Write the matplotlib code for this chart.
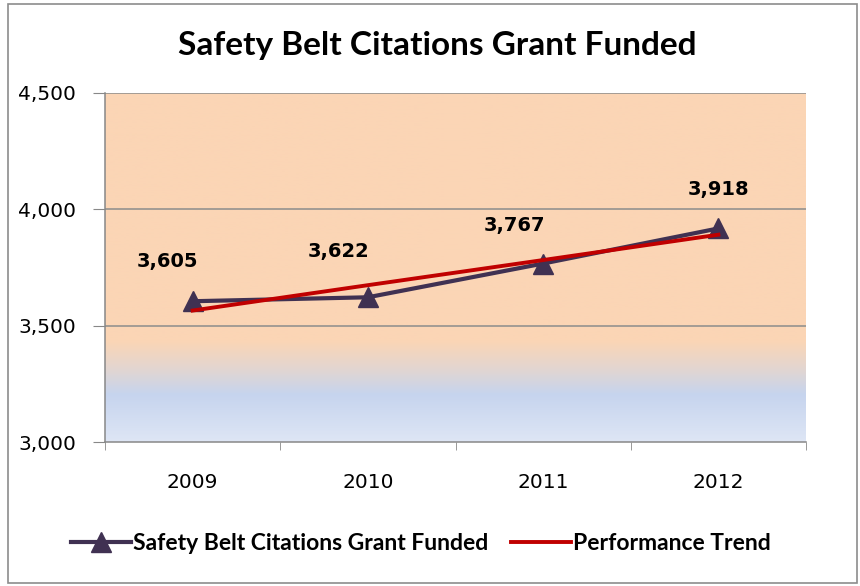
import numpy as np
import matplotlib
matplotlib.use("Agg")
import matplotlib.pyplot as plt
from matplotlib.colors import LinearSegmentedColormap
from matplotlib.patches import Rectangle

years = ["2009", "2010", "2011", "2012"]
citations = [3605, 3622, 3767, 3918]
trend = [3565, 3674, 3782, 3891]
y_ticks = [3000, 3500, 4000, 4500]
y_tick_labels = ["3,000", "3,500", "4,000", "4,500"]
title = "Safety Belt Citations Grant Funded"
series_name = "Safety Belt Citations Grant Funded"
trend_name = "Performance Trend"

label_offsets = [(-25, 30), (-29, 36), (-29, 29), (0, 29)]

fig = plt.figure(figsize=(8.6, 5.86), dpi=100)
ax = fig.add_axes([105/860, 1-442/586, 701/860, 349/586])

# gradient background
cmap = LinearSegmentedColormap.from_list("bg", [
    (0.0, "#DEE6F5"), (0.135, "#C6D4EE"), (0.21, "#E3D6D0"),
    (0.29, "#FBD5B5"), (1.0, "#FBD5B5")])
grad = np.linspace(0, 1, 256).reshape(-1, 1)
ax.imshow(grad, cmap=cmap, aspect="auto", origin="lower",
          extent=[-0.5, 3.5, 3000, 4500], zorder=0)

x = np.arange(len(years))
ax.plot(x, citations, color="#403152", lw=3, marker="^", markersize=14,
        zorder=3, label=series_name)
ax.plot(x, trend, color="#C00000", lw=2.8, zorder=4, label=trend_name)

for xi, v, (dx, dy) in zip(x, citations, label_offsets):
    ax.annotate(f"{v:,}", (xi, v), xytext=(dx, dy), textcoords="offset pixels",
                ha="center", va="bottom", fontsize=14, fontweight="bold",
                color="black")

ax.set_xlim(-0.5, 3.5)
ax.set_ylim(3000, 4500)
ax.set_yticks(y_ticks)
ax.set_yticklabels(y_tick_labels, fontsize=14.5)
ax.set_xticks(x)
ax.set_xticklabels(years, fontsize=14.5)
ax.set_xticks(np.arange(-0.5, 4.0, 1.0), minor=True)
ax.tick_params(axis="x", which="major", length=0, pad=22)
ax.tick_params(axis="x", which="minor", length=6, color="#888888", direction="out")
ax.tick_params(axis="y", length=9, color="#888888", direction="out", pad=12)
for yv in y_ticks[1:]:
    ax.axhline(yv, color="#8C8C8C", lw=1.1, zorder=1)
for s in ["top", "right"]:
    ax.spines[s].set_visible(False)
for s in ["left", "bottom"]:
    ax.spines[s].set_color("#888888")
    ax.spines[s].set_linewidth(1.1)

fig.text(437/860, 1-45/586, title, ha="center", va="center",
         fontsize=24, fontweight="bold", family="Lato")

leg = fig.legend(loc="center", bbox_to_anchor=(421/860, 1-544/586), ncol=2,
                 frameon=False, prop={"family": "Lato", "weight": "bold", "size": 16.5},
                 handlelength=2.6, handletextpad=0.1, columnspacing=1.0)

fig.add_artist(Rectangle((8/860, 3/586), 849/860, 579/586, transform=fig.transFigure,
                         fill=False, edgecolor="#8C8C8C", lw=1.2))

fig.savefig("out.png", dpi=100)
